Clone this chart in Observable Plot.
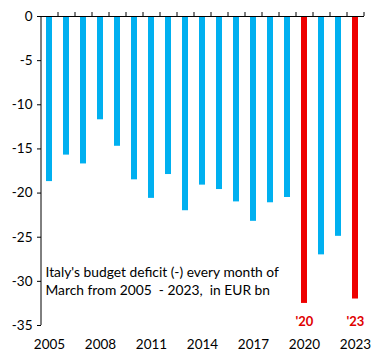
<!DOCTYPE html>
<html><head><meta charset="utf-8">
<script src="https://cdn.jsdelivr.net/npm/d3@7"></script>
<script src="https://cdn.jsdelivr.net/npm/@observablehq/plot@0.6"></script>
<style>body{margin:0;background:#fff}</style>
</head><body><div id="chart"></div>
<script>
const years = ["2005","2006","2007","2008","2009","2010","2011","2012","2013","2014","2015","2016","2017","2018","2019","2020","2021","2022","2023"];
const deficits = [-18.7,-15.7,-16.7,-11.7,-14.7,-18.5,-20.6,-17.9,-22.0,-19.1,-19.6,-21.0,-23.2,-21.1,-20.5,-32.5,-27.0,-24.9,-32.0];
const highlightYears = ["2020","2023"];
const highlightLabels = ["'20","'23"];
const xTickLabels = ["2005","2008","2011","2014","2017","2020","2023"];
const yTicks = [0,-5,-10,-15,-20,-25,-30,-35];
const annotation = "Italy's budget deficit (-) every month of\nMarch from 2005  - 2023,  in EUR bn";

const data = years.map((y,i)=>({year:y, value:deficits[i], hi: highlightYears.includes(y)}));
const W = 384, H = 362, mL = 41, mR = 20;
const step = (W - mL - mR) / years.length;

const chart = Plot.plot({
  width: W, height: H,
  marginLeft: mL, marginRight: mR, marginTop: 16, marginBottom: 37,
  style: {fontFamily: "Lato, sans-serif", fontSize: "13px", color: "#000", background: "#fff"},
  x: {type: "band", domain: years, paddingInner: 0.64, paddingOuter: 0.32, axis: null},
  y: {domain: [-35, 0], axis: null},
  marks: [
    Plot.barY(data, {x: "year", y: "value", fill: d => d.hi ? "#ee0000" : "#00b0f0"}),
    Plot.ruleY([0], {stroke: "#000", strokeWidth: 1}),
    Plot.ruleX(years, {x: d => d, dx: step/2, y1: 0, y2: 0, insetTop: -4, stroke: "#000"}),
    Plot.ruleX([0], {x: () => years[0], dx: -step/2, y1: -35, y2: 0, stroke: "#000"}),
    Plot.axisY({ticks: yTicks, tickSize: 4, tickPadding: 5, stroke: "#000", label: null, tickFormat: d => d === 0 ? "0" : "-" + Math.abs(d), fontSize: 13.5, anchor: "left"}),
    Plot.axisX({ticks: xTickLabels, tickSize: 0, tickPadding: 14, label: null, anchor: "bottom", fontSize: 13.5}),
    Plot.text(highlightYears, {x: d => d, y: -35, dy: -4, text: (d,i) => highlightLabels[i], fill: "#e00000", fontWeight: "bold", fontSize: 13}),
    Plot.text([annotation], {x: () => years[0], y: -29.9, dx: -4, textAnchor: "start", lineAnchor: "middle", lineHeight: 1.25, fontSize: 13.8, fill: "#000"})
  ]
});
document.getElementById("chart").appendChild(chart);
</script></body></html>
